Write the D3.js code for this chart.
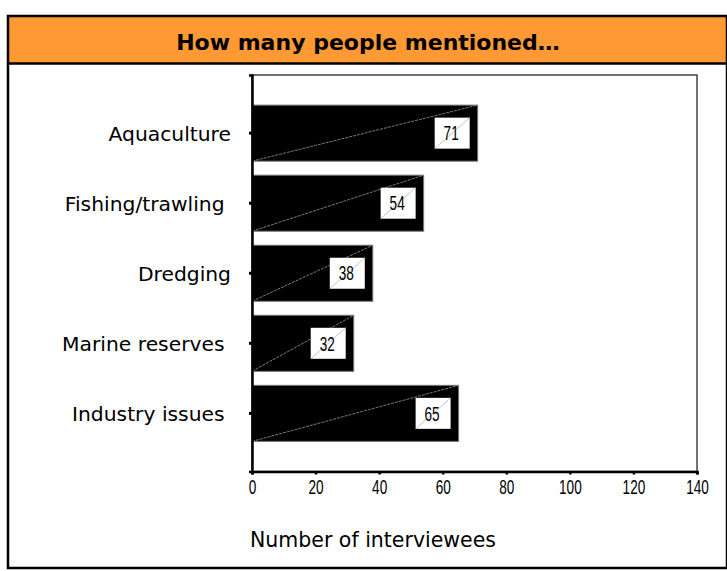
<!DOCTYPE html>
<html><head><meta charset="utf-8">
<script src="https://cdn.jsdelivr.net/npm/d3@7"></script>
<style>body{margin:0;background:#fff}svg{display:block}</style>
</head><body>
<script>
const categories = ["Aquaculture", "Fishing/trawling ", "Dredging", "Marine reserves ", "Industry issues "];
const values = [71, 54, 38, 32, 65];
const xTicks = [0, 20, 40, 60, 80, 100, 120, 140];
const title = "How many people mentioned…";
const xTitle = "Number of interviewees";

const W = 727, H = 571;
const svg = d3.select("body").append("svg").attr("width", W).attr("height", H);

// outer frame & title bar
svg.append("rect").attr("x", 8).attr("y", 16).attr("width", 722).attr("height", 47.5).attr("fill", "#FF9933");
svg.append("rect").attr("x", 8).attr("y", 16).attr("width", 719).attr("height", 552)
  .attr("fill", "none").attr("stroke", "#000").attr("stroke-width", 2.5);
svg.append("line").attr("x1", 8).attr("x2", 730).attr("y1", 63.5).attr("y2", 63.5)
  .attr("stroke", "#000").attr("stroke-width", 2.5);
svg.append("text").attr("x", 368).attr("y", 50).attr("text-anchor", "middle")
  .attr("font-family", "DejaVu Sans").attr("font-weight", "bold")
  .attr("font-size", 22).attr("fill", "#000").text(title);

const L = 252, R = 697, T = 75, B = 471.5;
const x = d3.scaleLinear().domain([0, 140]).range([L, R]);
const y = d3.scaleBand().domain(categories).range([T, B]).paddingInner(0.2).paddingOuter(0.43);

// plot frame
svg.append("rect").attr("x", L).attr("y", T).attr("width", R - L).attr("height", B - T)
  .attr("fill", "none").attr("stroke", "#444").attr("stroke-width", 1.5);

// bars
const g = svg.append("g");
categories.forEach((c, i) => {
  const v = values[i];
  const y0 = y(c), bh = y.bandwidth(), x1 = x(v);
  g.append("rect").attr("x", L).attr("y", y0).attr("width", x1 - L).attr("height", bh)
    .attr("fill", "#000").attr("stroke", "#777").attr("stroke-width", 1);
  g.append("line").attr("x1", L).attr("y1", y0 + bh).attr("x2", x1).attr("y2", y0)
    .attr("stroke", "#999").attr("stroke-width", 0.8).attr("stroke-dasharray", "3,1");
  const bw = 35, bhh = 31;
  const bx = x1 - 8 - bw, by = y0 + bh / 2 - bhh / 2;
  g.append("rect").attr("x", bx).attr("y", by).attr("width", bw).attr("height", bhh).attr("fill", "#fff");
  g.append("line").attr("x1", bx).attr("y1", by + bhh).attr("x2", bx + bw).attr("y2", by)
    .attr("stroke", "#aaa").attr("stroke-width", 0.7);
  g.append("text").attr("transform", `translate(${bx + bw / 2 - 1},${by + bhh / 2 + 7.2}) scale(0.68,1)`)
    .attr("text-anchor", "middle")
    .attr("font-family", "Liberation Sans, Arial").attr("font-size", 20).attr("fill", "#000").text(v);
});

// y axis
const yAxis = d3.axisLeft(y).tickSize(3).tickPadding(18);
const ya = svg.append("g").attr("transform", `translate(${L},0)`).call(yAxis);
ya.select(".domain").attr("stroke", "#000").attr("stroke-width", 2.5);
ya.selectAll(".tick line").attr("stroke", "#000").attr("stroke-width", 3);
ya.selectAll(".tick text").attr("font-family", "DejaVu Sans").attr("dy", "0.38em")
  .attr("font-size", 20.3).attr("fill", "#000").style("white-space", "pre");

// x axis
const xAxis = d3.axisBottom(x).tickValues(xTicks).tickSize(3).tickPadding(5.5);
const xa = svg.append("g").attr("transform", `translate(0,${B})`).call(xAxis);
xa.select(".domain").attr("stroke", "#000").attr("stroke-width", 2.5);
xa.selectAll(".tick line").attr("stroke", "#000").attr("stroke-width", 2.5);
xa.selectAll(".tick text").attr("font-family", "Liberation Sans, Arial").attr("font-size", 20)
  .attr("fill", "#000").attr("transform", "scale(0.68,1)");

svg.append("text").attr("x", 373).attr("y", 547).attr("text-anchor", "middle")
  .attr("font-family", "DejaVu Sans").attr("font-size", 20.5).attr("fill", "#000").text(xTitle);
</script>
</body></html>
